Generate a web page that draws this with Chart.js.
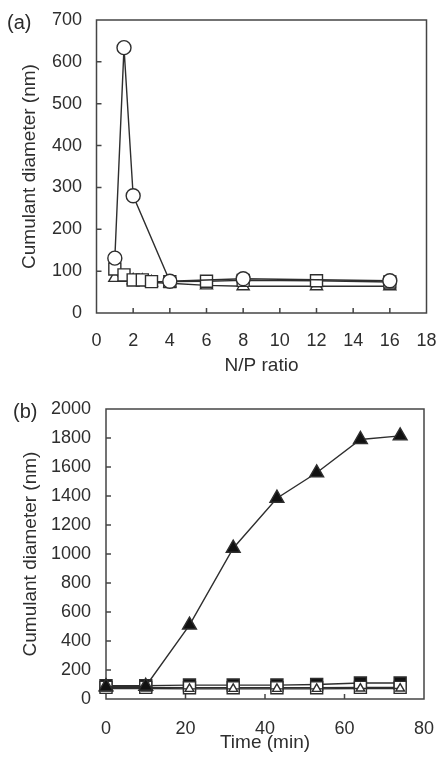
<!DOCTYPE html>
<html>
<head>
<meta charset="utf-8">
<script src="https://cdn.jsdelivr.net/npm/chart.js@4"></script>
<style>
  html, body { margin: 0; padding: 0; background: #fff; }
  .panel { position: absolute; left: 0; width: 438px; }
  .tag { position: absolute; font-family: "Liberation Sans", Arial, sans-serif; font-size: 20px; color: #2b2b2b; line-height: 22px; }
</style>
</head>
<body>
<div class="panel" style="top:0;height:380px"><canvas id="chartA" width="438" height="380"></canvas></div>
<div class="panel" style="top:380px;height:379px"><canvas id="chartB" width="438" height="379"></canvas></div>
<div class="tag" style="left:7px;top:11px">(a)</div>
<div class="tag" style="left:13px;top:400px">(b)</div>
<script>
// Panel (a): cumulant diameter vs N/P ratio
const npCircleX = [1, 1.5, 2, 4, 8, 16];
const npCircleY = [131, 634, 280, 76, 82, 77];
const npSquareX = [1, 1.5, 2, 2.5, 3, 4, 6, 8, 12, 16];
const npSquareY = [105, 91, 79, 79, 75, 75, 76, 78, 77, 74];
const npTriangleX = [1, 1.5, 2, 2.5, 3, 4, 6, 8, 12, 16];
const npTriangleY = [84, 84, 78, 77, 73, 71, 66, 64, 64, 64];
const npTicks = [0, 2, 4, 6, 8, 10, 12, 14, 16, 18];
const npSizeTicks = [0, 100, 200, 300, 400, 500, 600, 700];

// Panel (b): cumulant diameter vs time
const timeMin = [0, 10, 21, 32, 43, 53, 64, 74];
const filledTriangleY = [85, 88, 510, 1040, 1385, 1560, 1790, 1815];
const filledSquareY = [92, 92, 96, 96, 96, 100, 110, 110];
const openSquareY = [80, 80, 78, 78, 78, 78, 80, 80];
const openTriangleY = [72, 72, 70, 70, 70, 70, 72, 72];
const timeTicks = [0, 20, 40, 60, 80];
const timeSizeTicks = [0, 200, 400, 600, 800, 1000, 1200, 1400, 1600, 1800, 2000];

const INK = '#2e2e2e';
const FONT = '"Liberation Sans", Arial, sans-serif';

// Box around the plot plus short inward tick marks
const frameAndTicks = {
    id: 'frameAndTicks',
    beforeDatasetsDraw(chart) {
        const { ctx, chartArea: a, scales } = chart;
        const len = 5;
        ctx.save();
        ctx.strokeStyle = '#454545';
        ctx.lineWidth = 1.5;
        ctx.strokeRect(a.left, a.top, a.right - a.left, a.bottom - a.top);
        ctx.beginPath();
        scales.x.ticks.forEach(t => {
            const px = scales.x.getPixelForValue(t.value);
            if (px <= a.left + 1 || px >= a.right - 1) return;
            ctx.moveTo(px, a.bottom);
            ctx.lineTo(px, a.bottom - len);
        });
        scales.y.ticks.forEach(t => {
            const py = scales.y.getPixelForValue(t.value);
            if (py <= a.top + 1 || py >= a.bottom - 1) return;
            ctx.moveTo(a.left, py);
            ctx.lineTo(a.left + len, py);
        });
        ctx.stroke();
        ctx.restore();
    }
};

// One marker series
function series(xs, ys, style, radius, filled) {
    return {
        data: xs.map((x, i) => ({ x: x, y: ys[i] })),
        borderColor: INK,
        borderWidth: 1.4,
        pointStyle: style,
        pointRadius: radius,
        pointBorderWidth: 1.4,
        pointBorderColor: INK,
        pointBackgroundColor: filled ? '#111' : '#fff',
        tension: 0,
        clip: false
    };
}

function axis(min, max, tickValues, title, size, tickPad, titlePad) {
    return {
        type: 'linear',
        min: min,
        max: max,
        afterBuildTicks: scale => { scale.ticks = tickValues.map(v => ({ value: v })); },
        afterFit: scale => {
            // fixed box size, no extra room for overhanging labels
            if (scale.isHorizontal()) scale.height = size; else scale.width = size;
            scale.paddingLeft = scale.paddingRight = scale.paddingTop = scale.paddingBottom = 0;
        },
        grid: { display: false, drawTicks: false },
        border: { display: false },
        ticks: {
            padding: tickPad,
            color: INK,
            font: { family: FONT, size: 18 },
            callback: value => String(value)
        },
        title: { display: true, text: title, color: INK, padding: titlePad, font: { family: FONT, size: 19 } }
    };
}

function makeChart(id, datasets, x, y, padding) {
    return new Chart(document.getElementById(id), {
        type: 'line',
        data: { datasets: datasets },
        options: {
            responsive: false,
            animation: false,
            devicePixelRatio: 1,
            layout: { padding: padding },
            plugins: { legend: { display: false }, tooltip: { enabled: false } },
            scales: { x: x, y: y }
        },
        plugins: [frameAndTicks]
    });
}

makeChart('chartA',
    [
        series(npCircleX, npCircleY, 'circle', 7, false),
        series(npSquareX, npSquareY, 'rect', 8.5, false),
        series(npTriangleX, npTriangleY, 'triangle', 7, false)
    ],
    axis(0, 18, npTicks, 'N/P ratio', 67, 17, { top: 0, bottom: 3 }),
    axis(0, 700, npSizeTicks, 'Cumulant diameter (nm)', 96.5, 14.5, { top: 18.5, bottom: 0 }),
    { top: 20, right: 11.5, left: 0, bottom: 0 }
);

makeChart('chartB',
    [
        series(timeMin, filledTriangleY, 'triangle', 8, true),
        series(timeMin, openTriangleY, 'triangle', 5, false),
        series(timeMin, openSquareY, 'rect', 8.5, false),
        series(timeMin, filledSquareY, 'rect', 8.5, true)
    ],
    axis(0, 80, timeTicks, 'Time (min)', 60, 19, { top: 0, bottom: 4.5 }),
    axis(0, 2000, timeSizeTicks, 'Cumulant diameter (nm)', 106, 15, { top: 19.5, bottom: 0 }),
    { top: 29, right: 14, left: 0, bottom: 0 }
);
</script>
</body>
</html>
